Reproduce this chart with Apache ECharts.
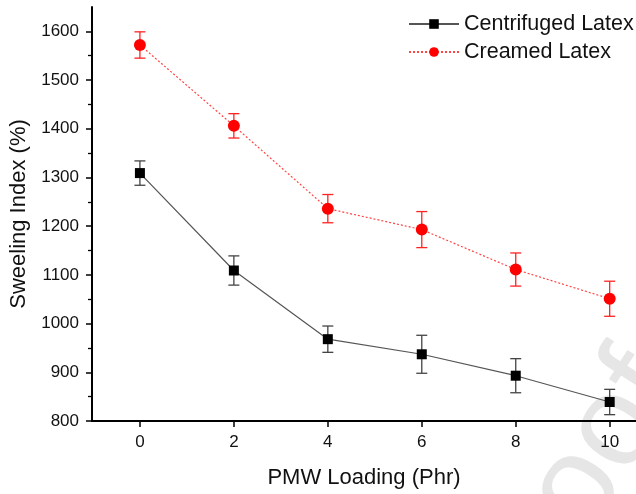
<!DOCTYPE html>
<html>
<head>
<meta charset="utf-8">
<script src="https://cdn.jsdelivr.net/npm/echarts@6/dist/echarts.min.js"></script>
<style>html,body{margin:0;padding:0;background:#fff}#c{width:636px;height:494px}</style>
</head>
<body>
<div id="c"></div>
<script>
var loading = [0, 2, 4, 6, 8, 10];
var centrifuged = [1309, 1109, 968, 937, 893, 839];
var centrifugedErr = [25, 30, 27, 39, 35, 26];
var creamed = [1572, 1406, 1236, 1193, 1111, 1051];
var creamedErr = [27, 25, 29, 37, 34, 36];
var yTicks = [800, 900, 1000, 1100, 1200, 1300, 1400, 1500, 1600];
var xTicks = [0, 2, 4, 6, 8, 10];

function pairs(xs, ys) { return xs.map(function (x, i) { return [x, ys[i]]; }); }
function errData(xs, ys, es) { return xs.map(function (x, i) { return [x, ys[i] - es[i], ys[i] + es[i]]; }); }
function errRender(color) {
  return function (params, api) {
    var x = api.value(0);
    var lo = api.coord([x, api.value(1)]);
    var hi = api.coord([x, api.value(2)]);
    var w = 5.5;
    var st = { stroke: color, lineWidth: 1.3 };
    return {
      type: 'group',
      children: [
        { type: 'line', shape: { x1: lo[0], y1: lo[1], x2: hi[0], y2: hi[1] }, style: st },
        { type: 'line', shape: { x1: lo[0] - w, y1: lo[1], x2: lo[0] + w, y2: lo[1] }, style: st },
        { type: 'line', shape: { x1: hi[0] - w, y1: hi[1], x2: hi[0] + w, y2: hi[1] }, style: st }
      ]
    };
  };
}

var chart = echarts.init(document.getElementById('c'), null, { renderer: 'canvas' });
var font = 'Liberation Sans, Arial, sans-serif';
chart.setOption({
  animation: false,
  backgroundColor: '#fff',
  textStyle: { fontFamily: font },
  graphic: [{
    type: 'text', z: -10, x: 655, y: 368, rotation: 1.0,
    style: { text: 'Journal Pre-proof', fill: '#e6e6e6', font: '130px ' + font, textAlign: 'right', textVerticalAlign: 'middle' }
  }],
  grid: { left: 92, top: 7, right: 0, bottom: 73, containLabel: false },
  legend: {
    left: 403, top: 8, orient: 'vertical', itemWidth: 50, itemHeight: 12, itemGap: 6, itemTextGap: 6,
    textStyle: { fontSize: 21.5, color: '#111', fontFamily: font },
    data: ['Centrifuged Latex', 'Creamed Latex']
  },
  xAxis: {
    type: 'value', min: -1.02, max: 10.56, interval: 1,
    name: 'PMW Loading (Phr)', nameLocation: 'middle', nameGap: 46,
    nameTextStyle: { fontSize: 22, color: '#111', fontFamily: font },
    axisLine: { lineStyle: { color: '#000', width: 2 } },
    axisTick: { length: 6, lineStyle: { color: '#000', width: 1.5 }, customValues: xTicks },
    axisLabel: { fontSize: 17, color: '#111', margin: 13, customValues: xTicks },
    splitLine: { show: false }
  },
  yAxis: {
    type: 'value', min: 800, max: 1650, interval: 100,
    name: 'Sweeling Index (%)', nameLocation: 'middle', nameGap: 53,
    nameTextStyle: { fontSize: 22, color: '#111', fontFamily: font },
    axisLine: { show: true, onZero: false, lineStyle: { color: '#000', width: 2 } },
    axisTick: { show: true, length: 6, lineStyle: { color: '#000', width: 1.5 }, customValues: yTicks },
    minorTick: { show: true, splitNumber: 2, length: 4, lineStyle: { color: '#000', width: 1.3 } },
    axisLabel: { fontSize: 17, color: '#111', margin: 13, customValues: yTicks, formatter: function (v) { return String(v); } },
    splitLine: { show: false }
  },
  series: [
    {
      type: 'custom', name: 'errC', renderItem: errRender('#444'), data: errData(loading, centrifuged, centrifugedErr), z: 2, silent: true
    },
    {
      type: 'custom', name: 'errR', renderItem: errRender('#f22'), data: errData(loading, creamed, creamedErr), z: 2, silent: true
    },
    {
      type: 'line', name: 'Centrifuged Latex', data: pairs(loading, centrifuged), z: 3,
      symbol: 'rect', symbolSize: 10, itemStyle: { color: '#000' },
      lineStyle: { color: '#555', width: 1.2 }
    },
    {
      type: 'line', name: 'Creamed Latex', data: pairs(loading, creamed), z: 3,
      symbol: 'circle', symbolSize: 12, itemStyle: { color: '#ff0000' },
      lineStyle: { color: '#ff4444', width: 1.2, type: [2, 2] }
    }
  ]
});
</script>
</body>
</html>
